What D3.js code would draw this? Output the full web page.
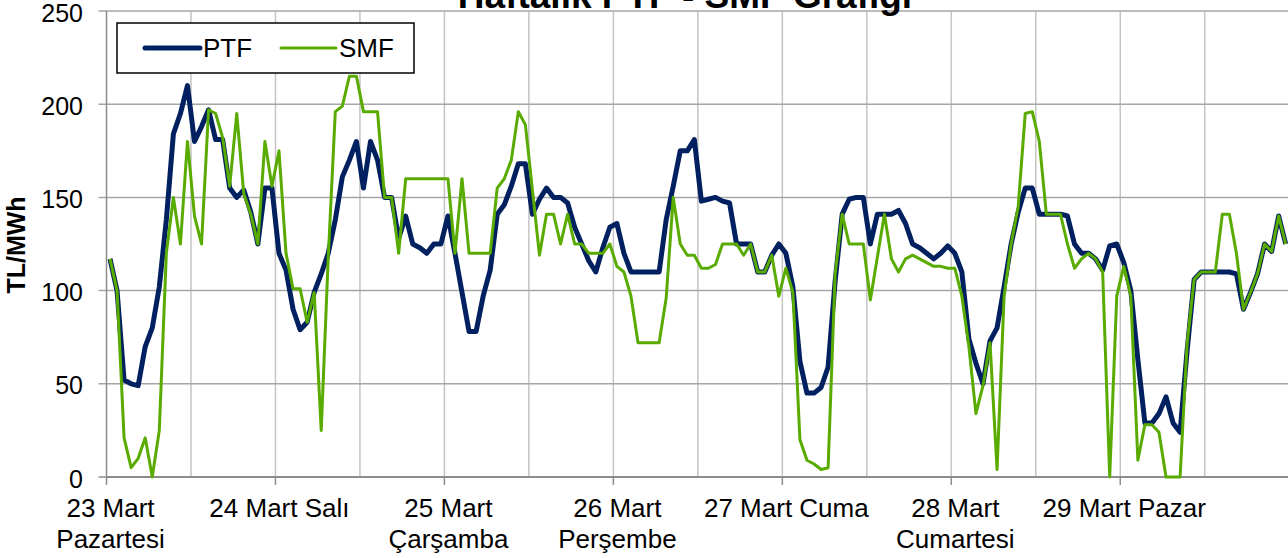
<!DOCTYPE html>
<html>
<head>
<meta charset="utf-8">
<script src="https://cdn.jsdelivr.net/npm/d3@7"></script>
<style>
  body { margin: 0; background: #fff; }
  text { font-family: "Liberation Sans", Arial, sans-serif; fill: #000; }
</style>
</head>
<body>
<script>
// hourly prices, 23-29 Mart, 24 values per day
let ptf = [
  117, 100, 52, 50, 49, 70, 80, 102, 138, 184, 195, 210, 180, 188, 197, 181, 181, 155, 150, 154, 142, 125, 155, 155,
  120, 111, 90, 79, 83, 99, 109, 120, 138, 161, 170, 180, 155, 180, 170, 150, 150, 128, 140, 125, 123, 120, 125, 125,
  140, 120, 99, 78, 78, 97, 111, 141, 146, 156, 168, 168, 141, 149, 155, 150, 150, 147, 134, 125, 116, 110, 123, 134,
  136, 120, 110, 110, 110, 110, 110, 138, 156, 175, 175, 181, 148, 149, 150, 148, 147, 125, 125, 125, 110, 110, 119, 125,
  120, 102, 62, 45, 45, 48, 59, 105, 141, 149, 150, 150, 125, 141, 141, 141, 143, 136, 125, 123, 120, 117, 120, 124,
  120, 110, 74, 61, 50, 73, 80, 102, 125, 142, 155, 155, 141, 141, 141, 141, 140, 125, 120, 120, 117, 111, 124, 125,
  115, 100, 63, 29, 29, 34, 43, 29, 24, 68, 106, 110, 110, 110, 110, 110, 109, 90, 99, 109, 125, 121, 140, 125
];
let smf = [
  117, 100, 21, 5, 10, 21, 0, 25, 120, 150, 125, 180, 140, 125, 197, 195, 182, 156, 195, 152, 141, 125, 180, 156,
  175, 120, 101, 101, 83, 99, 25, 118, 196, 199, 215, 215, 196, 196, 196, 150, 150, 120, 160, 160, 160, 160, 160, 160,
  160, 120, 160, 120, 120, 120, 120, 155, 160, 170, 196, 189, 154, 119, 141, 141, 125, 141, 125, 125, 120, 120, 120, 125,
  113, 110, 97, 72, 72, 72, 72, 96, 150, 125, 119, 119, 112, 112, 114, 125, 125, 125, 119, 125, 110, 110, 119, 97,
  112, 99, 20, 9, 7, 4, 5, 109, 141, 125, 125, 125, 95, 118, 141, 117, 110, 117, 119, 117, 115, 113, 113, 112,
  112, 97, 70, 34, 49, 72, 4, 97, 125, 145, 195, 196, 180, 141, 141, 141, 125, 112, 117, 120, 117, 110, 0, 97,
  113, 97, 9, 28, 28, 24, 0, 0, 0, 72, 106, 110, 110, 110, 141, 141, 120, 90, 99, 109, 125, 121, 140, 125
];
let dayLabels = [
  ['23 Mart', 'Pazartesi'],
  ['24 Mart Salı'],
  ['25 Mart', 'Çarşamba'],
  ['26 Mart', 'Perşembe'],
  ['27 Mart Cuma'],
  ['28 Mart', 'Cumartesi'],
  ['29 Mart Pazar']
];
let yTicks = [0, 50, 100, 150, 200, 250];
let seriesNames = ['PTF', 'SMF'];

let svg = d3.select('body')
  .append('svg')
  .attr('width', 1288)
  .attr('height', 558);

let plotLeft = 106.5;
let plotTop = 11;
let plotBottom = 477;
let hours = ptf.length;

let x = d3.scaleLinear().domain([0, hours]).range([plotLeft, plotLeft + hours * 7.04]);
let y = d3.scaleLinear().domain([0, 250]).range([plotBottom, plotTop]);

drawGrid();
drawAxes();
drawLines();
drawLegend();
drawTitles();

function drawGrid() {
  let halfDays = d3.range(1, hours / 12 + 1).map(k => k * 12);
  svg.append('g').selectAll('line').data(halfDays)
    .enter().append('line')
    .attr('x1', d => x(d))
    .attr('x2', d => x(d))
    .attr('y1', plotTop)
    .attr('y2', plotBottom)
    .attr('stroke', '#c4c4c4')
    .attr('stroke-width', 1.5);
  svg.append('g').selectAll('line').data(yTicks.slice(1))
    .enter().append('line')
    .attr('x1', plotLeft - 8)
    .attr('x2', 1288)
    .attr('y1', d => y(d))
    .attr('y2', d => y(d))
    .attr('stroke', '#a6a6a6')
    .attr('stroke-width', 1.5);
}

function drawAxes() {
  // y axis
  svg.append('line')
    .attr('x1', plotLeft).attr('x2', plotLeft)
    .attr('y1', plotTop).attr('y2', plotBottom)
    .attr('stroke', '#8c8c8c').attr('stroke-width', 1.5);
  svg.append('line')
    .attr('x1', plotLeft - 8).attr('x2', plotLeft)
    .attr('y1', plotBottom).attr('y2', plotBottom)
    .attr('stroke', '#8c8c8c').attr('stroke-width', 1.5);
  svg.append('g').selectAll('text').data(yTicks)
    .enter().append('text')
    .attr('x', 83)
    .attr('y', d => y(d) + 10.5)
    .attr('text-anchor', 'end')
    .style('font-size', '25px')
    .text(d => d);

  // x axis
  svg.append('line')
    .attr('x1', plotLeft).attr('x2', 1288)
    .attr('y1', plotBottom).attr('y2', plotBottom)
    .attr('stroke', '#8c8c8c').attr('stroke-width', 2);
  let dayStarts = d3.range(dayLabels.length + 1).map(k => k * 24);
  svg.append('g').selectAll('line').data(dayStarts)
    .enter().append('line')
    .attr('x1', d => x(d)).attr('x2', d => x(d))
    .attr('y1', plotBottom).attr('y2', plotBottom + 8)
    .attr('stroke', '#8c8c8c').attr('stroke-width', 1.5);

  let labels = svg.append('g').selectAll('text').data(dayLabels)
    .enter().append('text')
    .attr('text-anchor', 'middle')
    .style('font-size', '26px');
  labels.selectAll('tspan').data((d, i) => d.map(s => ({ s: s, i: i })))
    .enter().append('tspan')
    .attr('x', d => x(d.i * 24) + 4)
    .attr('y', (d, j) => 517 + j * 31)
    .text(d => d.s);
}

function drawLines() {
  let line = d3.line()
    .x((d, i) => x(i + 0.5))
    .y(d => y(d));
  svg.append('path')
    .attr('d', line(ptf))
    .attr('fill', 'none')
    .attr('stroke', '#002060')
    .attr('stroke-width', 5)
    .attr('stroke-linejoin', 'round');
  svg.append('path')
    .attr('d', line(smf))
    .attr('fill', 'none')
    .attr('stroke', '#5aab00')
    .attr('stroke-width', 3)
    .attr('stroke-linejoin', 'round');
}

function drawLegend() {
  let g = svg.append('g');
  g.append('rect')
    .attr('x', 117).attr('y', 23)
    .attr('width', 297).attr('height', 50)
    .attr('fill', '#fff')
    .attr('stroke', '#000')
    .attr('stroke-width', 1.5);
  let items = [
    { name: seriesNames[0], color: '#002060', w: 5, x: 145 },
    { name: seriesNames[1], color: '#5aab00', w: 3, x: 281 }
  ];
  items.forEach(d => {
    g.append('line')
      .attr('x1', d.x).attr('x2', d.x + 55)
      .attr('y1', 48).attr('y2', 48)
      .attr('stroke', d.color)
      .attr('stroke-width', d.w)
      .attr('stroke-linecap', 'round');
    g.append('text')
      .attr('x', d.x + 58)
      .attr('y', 57)
      .style('font-size', '26px')
      .text(d.name);
  });
}

function drawTitles() {
  svg.append('text')
    .attr('x', 685)
    .attr('y', 8)
    .attr('text-anchor', 'middle')
    .style('font-size', '37px')
    .style('font-weight', 'bold')
    .text('Haftalık PTF - SMF Grafiği');
  svg.append('text')
    .attr('transform', 'translate(25,245) rotate(-90)')
    .attr('text-anchor', 'middle')
    .style('font-size', '25px')
    .style('font-weight', 'bold')
    .text('TL/MWh');
}
</script>
</body>
</html>
